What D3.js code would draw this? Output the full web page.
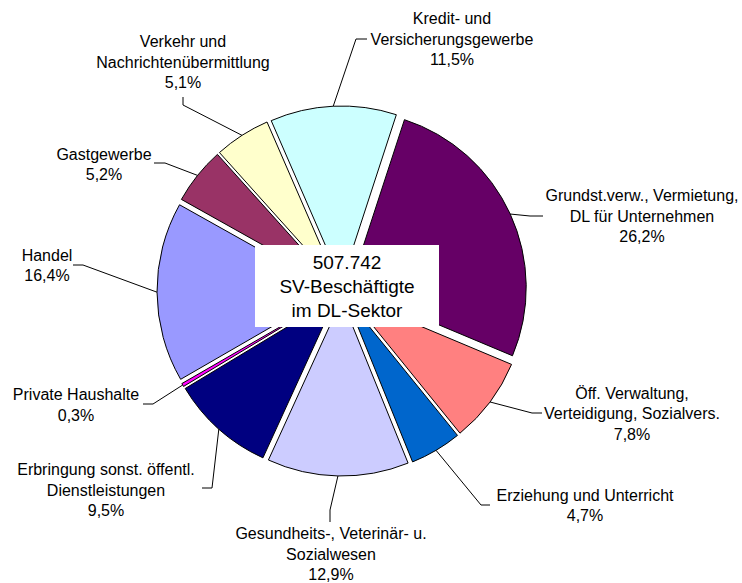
<!DOCTYPE html>
<html>
<head>
    <meta charset="utf-8">
    <title>SV-Beschäftigte im DL-Sektor</title>
    <script type="text/javascript" src="https://cdn.jsdelivr.net/npm/d3@7"></script>
    <style>
        body {
            margin: 0;
            background: #fff;
        }
        text {
            font-family: "Liberation Sans", Arial, sans-serif;
            fill: #000;
        }
        .slice {
            stroke: #000;
            stroke-width: 1px;
        }
        .leader {
            fill: none;
            stroke: #000;
            stroke-width: 1px;
        }
    </style>
</head>

<body>

<script type="text/javascript">
    // data, clockwise from the top
    var labelLines = [
        ["Kredit- und", "Versicherungsgewerbe"],
        ["Grundst.verw., Vermietung,", "DL für Unternehmen"],
        ["Öff. Verwaltung,", "Verteidigung, Sozialvers."],
        ["Erziehung und Unterricht"],
        ["Gesundheits-, Veterinär- u.", "Sozialwesen"],
        ["Erbringung sonst. öffentl.", "Dienstleistungen"],
        ["Private Haushalte"],
        ["Handel"],
        ["Gastgewerbe"],
        ["Verkehr und", "Nachrichtenübermittlung"]
    ];
    var shares = [11.5, 26.2, 7.8, 4.7, 12.9, 9.5, 0.3, 16.4, 5.2, 5.1];
    var totalLines = ["507.742", "SV-Beschäftigte", "im DL-Sektor"];

    var colors = ["#ccffff", "#660066", "#ff8080", "#0066cc", "#ccccff",
        "#000080", "#ff00ff", "#9999ff", "#993366", "#ffffcc"];

    // label placement: text centre x, first line y, elbow and tick end of the leader
    var labelPos = [
        {x: 452, y: 18.5, elbow: [356, 39], end: [367, 39]},
        {x: 642, y: 195.5, elbow: [530, 216], end: [543, 216]},
        {x: 632, y: 393, elbow: [532, 413], end: [542, 413]},
        {x: 585, y: 495, elbow: [481, 505], end: [490, 505]},
        {x: 331, y: 533.5, elbow: [330, 510], end: [330, 522]},
        {x: 106, y: 469.5, elbow: [212, 488], end: [202, 488]},
        {x: 76, y: 394.5, elbow: [153, 404], end: [143, 404]},
        {x: 47, y: 255, elbow: [83, 265], end: [73, 265]},
        {x: 104, y: 154, elbow: [165, 163], end: [154, 163]},
        {x: 183, y: 41.5, elbow: [183, 105], end: [183, 97]}
    ];

    var width = 742,
            height = 583,
            cx = 342,
            cy = 291,
            radius = 176.5,
            explode = 8.5,
            lineStep = 20.5;

    var fmt = d3.formatLocale({decimal: ",", thousands: ".", grouping: [3], currency: ["", "€"]})
            .format(".1f");

    var svg = d3.select("body").append("svg")
            .attr("width", width)
            .attr("height", height);

    var pie = d3.pie()
            .sort(null)
            .startAngle(-23.5 * Math.PI / 180)
            .endAngle((360 - 23.5) * Math.PI / 180);

    var arcs = pie(shares);

    var arc = d3.arc()
            .innerRadius(0)
            .outerRadius(radius);

    function offset(d) {
        var a = (d.startAngle + d.endAngle) / 2;
        return [explode * Math.sin(a), -explode * Math.cos(a)];
    }

    var g = svg.append("g")
            .attr("transform", "translate(" + cx + "," + cy + ")");

    g.selectAll("path.slice")
            .data(arcs)
            .enter()
            .append("path")
            .attr("class", "slice")
            .attr("fill", function (d, i) { return colors[i]; })
            .attr("transform", function (d) {
                var o = offset(d);
                return "translate(" + o[0] + "," + o[1] + ")";
            })
            .attr("d", arc);

    // leader lines start on the outer edge at the slice's middle angle
    var line = d3.line();
    svg.selectAll("path.leader")
            .data(arcs)
            .enter()
            .append("path")
            .attr("class", "leader")
            .attr("d", function (d, i) {
                var a = (d.startAngle + d.endAngle) / 2,
                        o = offset(d),
                        p = [cx + o[0] + radius * Math.sin(a), cy + o[1] - radius * Math.cos(a)];
                return line([p, labelPos[i].elbow, labelPos[i].end]);
            });

    var labels = svg.selectAll("text.label")
            .data(arcs)
            .enter()
            .append("text")
            .attr("class", "label")
            .attr("text-anchor", "middle")
            .style("font-size", "16px");

    labels.selectAll("tspan")
            .data(function (d, i) {
                return labelLines[i].concat([fmt(shares[i]) + "%"]).map(function (t, k) {
                    return {t: t, x: labelPos[i].x, y: labelPos[i].y + k * lineStep};
                });
            })
            .enter()
            .append("tspan")
            .attr("x", function (d) { return d.x; })
            .attr("y", function (d) { return d.y; })
            .attr("dy", "0.36em")
            .text(function (d) { return d.t; });

    // total in a white box over the centre
    svg.append("rect")
            .attr("x", 255)
            .attr("y", 245)
            .attr("width", 184)
            .attr("height", 82)
            .attr("fill", "#fff");

    svg.append("text")
            .attr("text-anchor", "middle")
            .style("font-size", "19px")
            .selectAll("tspan")
            .data(totalLines)
            .enter()
            .append("tspan")
            .attr("x", 347)
            .attr("y", function (d, k) { return 262 + k * 24; })
            .attr("dy", "0.36em")
            .text(function (d) { return d; });
</script>

</body>

</html>
